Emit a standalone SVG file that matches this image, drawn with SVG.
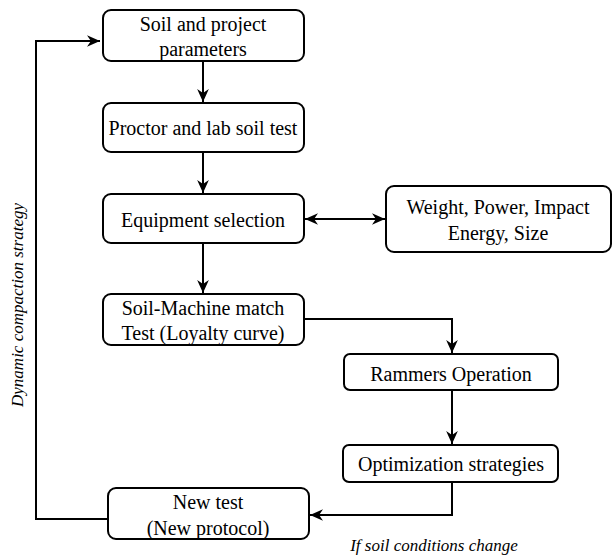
<svg xmlns="http://www.w3.org/2000/svg" width="613" height="557" viewBox="0 0 613 557">
<style>
.box{fill:#fff;stroke:#000;stroke-width:2}
.t{font-family:"Liberation Serif","Times New Roman",serif;font-size:20px;fill:#000;text-anchor:middle}
.lbl{font-family:"Liberation Serif","Times New Roman",serif;font-size:17px;font-style:italic;fill:#000;text-anchor:middle}
.c{fill:none;stroke:#000;stroke-width:2}
</style>
<defs>
<marker id="ah" viewBox="0 0 10 10" refX="10" refY="5" markerWidth="13" markerHeight="13" markerUnits="userSpaceOnUse" orient="auto-start-reverse">
<path d="M0,0.5 L10,5 L0,9.5 L3,5 Z" fill="#000"/>
</marker>
</defs>
<rect width="613" height="557" fill="#fff"/>
<g id="connectors">
<path class="c" d="M203,61 V102" marker-end="url(#ah)"/>
<path class="c" d="M203,152 V193" marker-end="url(#ah)"/>
<path class="c" d="M203,243 V293" marker-end="url(#ah)"/>
<path class="c" d="M305,219 H385" marker-start="url(#ah)" marker-end="url(#ah)"/>
<path class="c" d="M304,319 H452 V353" marker-end="url(#ah)"/>
<path class="c" d="M452,390 V444" marker-end="url(#ah)"/>
<path class="c" d="M452,482 V515 H310" marker-end="url(#ah)"/>
<path class="c" d="M108,519 H36 V41 H100" marker-end="url(#ah)"/>
</g>
<g id="n1"><rect class="box" x="103" y="10" width="201" height="51" rx="8"/>
<text class="t" x="203" y="31">Soil and project</text><text class="t" x="203" y="56">parameters</text></g>
<g id="n2"><rect class="box" x="103" y="103" width="201" height="49" rx="8"/>
<text class="t" x="203" y="135">Proctor and lab soil test</text></g>
<g id="n3"><rect class="box" x="103" y="194" width="201" height="49" rx="8"/>
<text class="t" x="203" y="227">Equipment selection</text></g>
<g id="n4"><rect class="box" x="386" y="186" width="225" height="66" rx="8"/>
<text class="t" x="498" y="214">Weight, Power, Impact</text><text class="t" x="498" y="240">Energy, Size</text></g>
<g id="n5"><rect class="box" x="103" y="294" width="201" height="51" rx="8"/>
<text class="t" x="203" y="315">Soil-Machine match</text><text class="t" x="203" y="340">Test (Loyalty curve)</text></g>
<g id="n6"><rect class="box" x="344" y="354" width="214" height="36" rx="6"/>
<text class="t" x="451" y="381">Rammers Operation</text></g>
<g id="n7"><rect class="box" x="343" y="445" width="215" height="37" rx="6"/>
<text class="t" x="451" y="471">Optimization strategies</text></g>
<g id="n8"><rect class="box" x="108" y="488" width="201" height="51" rx="8"/>
<text class="t" x="208" y="509">New test</text><text class="t" x="208" y="535">(New protocol)</text></g>
<text class="lbl" x="434" y="551">If soil conditions change</text>
<text class="lbl" transform="translate(23,305) rotate(-90)">Dynamic compaction strategy</text>
</svg>
